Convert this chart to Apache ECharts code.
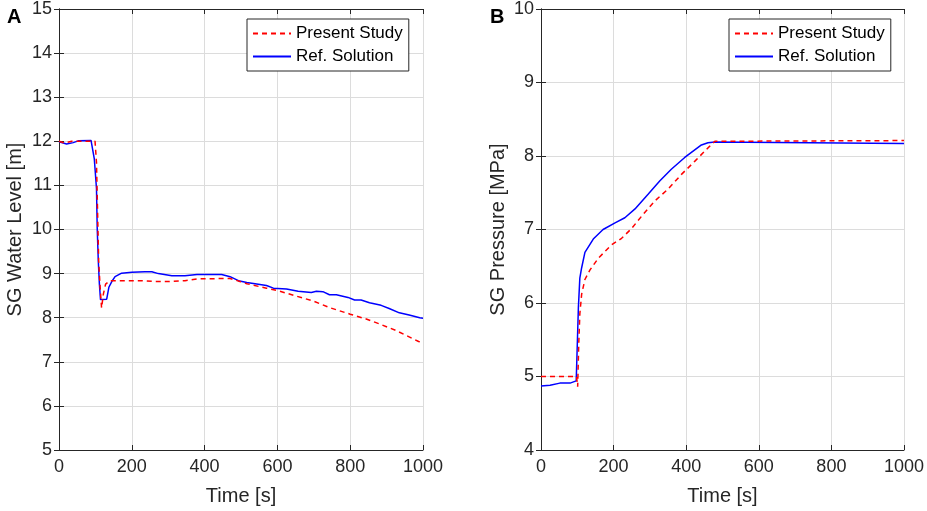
<!DOCTYPE html>
<html>
<head>
<meta charset="utf-8">
<script src="https://cdn.jsdelivr.net/npm/echarts@6/dist/echarts.min.js"></script>
<style>
  html, body { margin: 0; padding: 0; background: #fff; }
  #main { width: 927px; height: 511px; }
</style>
</head>
<body>
<div id="main"></div>
<script>
// panel A - SG water level [m]
var levelStudyT = [0, 16, 35, 99, 103, 106, 109, 113, 117, 122, 128, 140, 172, 227, 264, 300, 346, 379, 470, 497, 516, 570, 607, 652, 698, 743, 800, 844, 880, 926, 988, 1000];
var levelStudyV = [12.0, 11.96, 12.0, 12.0, 11.52, 10.4, 9.28, 8.69, 8.22, 8.54, 8.76, 8.84, 8.84, 8.84, 8.82, 8.82, 8.84, 8.88, 8.89, 8.82, 8.77, 8.67, 8.6, 8.49, 8.38, 8.23, 8.08, 7.97, 7.86, 7.71, 7.46, 7.43];
var levelRefT = [0, 21, 39, 53, 88, 97, 103, 105, 108, 111, 114, 131, 137, 145, 154, 172, 200, 236, 255, 273, 310, 346, 379, 447, 470, 493, 516, 570, 589, 625, 657, 693, 707, 725, 743, 762, 794, 812, 830, 853, 885, 907, 935, 962, 991, 1000];
var levelRefV = [11.99, 11.94, 11.97, 12.01, 12.02, 11.6, 10.93, 10.03, 9.28, 8.76, 8.41, 8.42, 8.69, 8.82, 8.93, 9.01, 9.03, 9.04, 9.04, 9.0, 8.95, 8.95, 8.98, 8.98, 8.93, 8.84, 8.8, 8.73, 8.67, 8.65, 8.6, 8.57, 8.6, 8.59, 8.52, 8.52, 8.46, 8.4, 8.4, 8.34, 8.28, 8.21, 8.11, 8.06, 8.0, 7.99];

// panel B - SG pressure [MPa]
var pressStudyT = [0, 98, 101, 104, 107, 112, 121, 135, 158, 194, 222, 249, 277, 314, 350, 387, 424, 460, 479, 1000];
var pressStudyV = [5.0, 5.0, 4.86, 5.44, 5.85, 6.12, 6.32, 6.45, 6.61, 6.79, 6.88, 7.01, 7.18, 7.39, 7.55, 7.75, 7.93, 8.11, 8.2, 8.21];
var pressRefT = [0, 25, 52, 80, 97, 100, 103, 107, 112, 121, 144, 171, 204, 231, 259, 295, 327, 359, 396, 442, 460, 479, 1000];
var pressRefV = [4.87, 4.88, 4.91, 4.91, 4.94, 5.44, 5.94, 6.34, 6.48, 6.69, 6.87, 7.0, 7.09, 7.16, 7.28, 7.48, 7.66, 7.82, 7.98, 8.15, 8.18, 8.19, 8.17];

var seriesNames = ['Present Study', 'Ref. Solution'];

function pairs(t, v) {
  return t.map(function (x, i) { return [x, v[i]]; });
}

var font = 'Liberation Sans, Arial, Helvetica, sans-serif';
var ink = '#262626';

function xAxes(grid) {
  return [{
    gridIndex: grid, type: 'value', min: 0, max: 1000, interval: 200,
    name: 'Time [s]', nameLocation: 'middle', nameGap: 36,
    nameTextStyle: { fontSize: 20, color: ink, fontFamily: font },
    axisLine: { lineStyle: { color: ink, width: 1 } },
    axisTick: { inside: true, length: 5, lineStyle: { color: ink } },
    axisLabel: { fontSize: 18, color: ink, fontFamily: font, margin: 8, formatter: function (v) { return String(v); } },
    splitLine: { show: true, lineStyle: { color: '#dcdcdc', width: 1 } }
  }, {
    gridIndex: grid, type: 'value', min: 0, max: 1000, interval: 200, position: 'top',
    axisLine: { lineStyle: { color: ink, width: 1 } },
    axisTick: { inside: true, length: 5, lineStyle: { color: ink } },
    axisLabel: { show: false },
    splitLine: { show: false }
  }];
}

function yAxes(grid, min, max, title, gap) {
  return [{
    gridIndex: grid, type: 'value', min: min, max: max, interval: 1,
    name: title, nameLocation: 'middle', nameGap: gap, nameRotate: 90,
    nameTextStyle: { fontSize: 20, color: ink, fontFamily: font },
    axisLine: { show: true, lineStyle: { color: ink, width: 1 } },
    axisTick: { show: true, inside: true, length: 5, lineStyle: { color: ink } },
    axisLabel: { fontSize: 18, color: ink, fontFamily: font, margin: 7 },
    splitLine: { show: true, lineStyle: { color: '#dcdcdc', width: 1 } }
  }, {
    gridIndex: grid, type: 'value', min: min, max: max, interval: 1, position: 'right',
    axisLine: { show: true, lineStyle: { color: ink, width: 1 } },
    axisTick: { show: true, inside: true, length: 5, lineStyle: { color: ink } },
    axisLabel: { show: false },
    splitLine: { show: false }
  }];
}

function legendAt(left) {
  return {
    data: seriesNames, orient: 'vertical', left: left, top: 19,
    itemWidth: 38, itemHeight: 14, itemGap: 6,
    padding: [6, 6, 6, 5],
    borderColor: ink, borderWidth: 1, backgroundColor: '#fff',
    itemStyle: { opacity: 0 },
    textStyle: { fontSize: 17, color: '#000', fontFamily: font }
  };
}

function line(name, data, xi, yi) {
  var study = name === seriesNames[0];
  return {
    name: name, type: 'line', xAxisIndex: xi, yAxisIndex: yi,
    data: data, symbol: 'none', animation: false, z: study ? 4 : 3,
    lineStyle: study ? { color: '#ff0000', width: 1.5, type: [5, 4] } : { color: '#0000ff', width: 1.5 },
    itemStyle: { color: study ? '#ff0000' : '#0000ff' }
  };
}

var chart = echarts.init(document.getElementById('main'));
var option = {
  backgroundColor: '#fff',
  animation: false,
  title: [
    { text: 'A', left: 2, top: 2, textStyle: { fontSize: 20, fontWeight: 'bold', color: '#000', fontFamily: font } },
    { text: 'B', left: 485, top: 2, textStyle: { fontSize: 20, fontWeight: 'bold', color: '#000', fontFamily: font } }
  ],
  grid: [
    { left: 59, top: 7.5, width: 364, height: 446.5 },
    { left: 541, top: 7.5, width: 364, height: 446.5 }
  ],
  legend: [legendAt(247), legendAt(729)],
  xAxis: xAxes(0).concat(xAxes(1)),
  yAxis: yAxes(0, 5, 15, 'SG Water Level [m]', 34).concat(yAxes(1, 4, 10, 'SG Pressure [MPa]', 33)),
  series: [
    line(seriesNames[1], pairs(levelRefT, levelRefV), 0, 0),
    line(seriesNames[0], pairs(levelStudyT, levelStudyV), 0, 0),
    line(seriesNames[1], pairs(pressRefT, pressRefV), 2, 2),
    line(seriesNames[0], pairs(pressStudyT, pressStudyV), 2, 2)
  ]
};
chart.setOption(option);
</script>
</body>
</html>
